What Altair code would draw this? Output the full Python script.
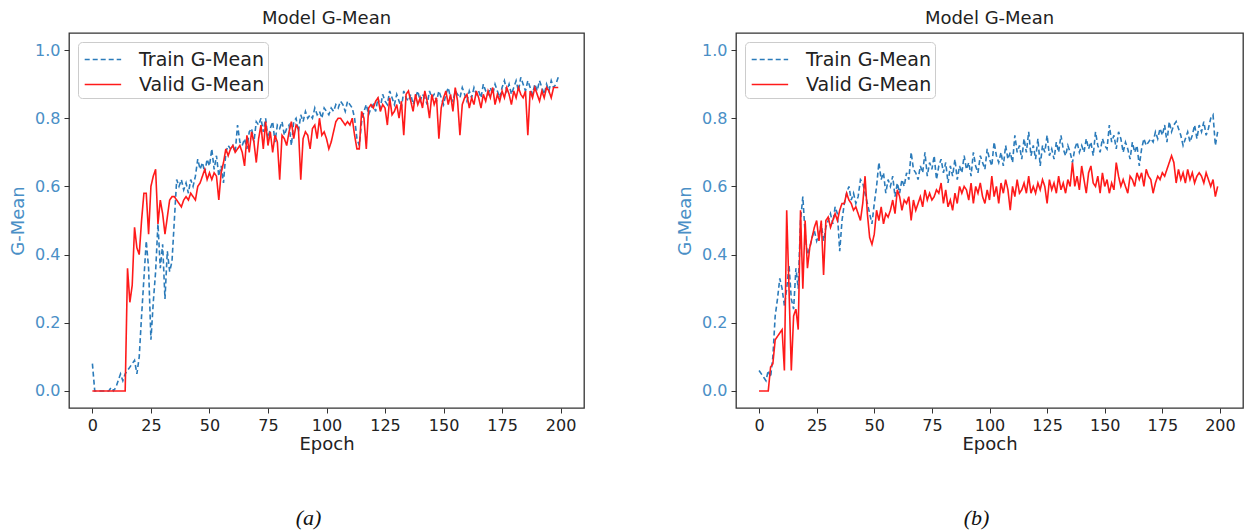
import altair as alt
import pandas as pd

epochs = list(range(200))

a_train = [
    0.08, 0.00, 0.00, 0.00, 0.00, 0.00, 0.00, 0.00, 0.01, 0.00,
    0.01, 0.03, 0.05, 0.03, 0.05, 0.06, 0.07, 0.08, 0.09, 0.05,
    0.10, 0.22, 0.33, 0.44, 0.36, 0.15, 0.26, 0.35, 0.49, 0.36,
    0.43, 0.27, 0.41, 0.35, 0.38, 0.50, 0.62, 0.60, 0.62, 0.59,
    0.61, 0.58, 0.62, 0.60, 0.63, 0.68, 0.65, 0.67, 0.64, 0.68,
    0.66, 0.71, 0.65, 0.69, 0.63, 0.66, 0.61, 0.70, 0.72, 0.71,
    0.72, 0.70, 0.78, 0.73, 0.72, 0.74, 0.71, 0.76, 0.77, 0.73,
    0.79, 0.78, 0.80, 0.76, 0.80, 0.74, 0.77, 0.79, 0.73, 0.78,
    0.77, 0.79, 0.75, 0.77, 0.78, 0.72, 0.79, 0.80, 0.76, 0.81,
    0.79, 0.82, 0.80, 0.81, 0.80, 0.83, 0.81, 0.82, 0.80, 0.83,
    0.82, 0.81, 0.83, 0.82, 0.84, 0.83, 0.85, 0.84, 0.82, 0.85,
    0.84, 0.83, 0.80, 0.74, 0.72, 0.79, 0.82, 0.84, 0.81, 0.83,
    0.84, 0.82, 0.86, 0.83, 0.87, 0.85, 0.84, 0.88, 0.86, 0.84,
    0.87, 0.85, 0.83, 0.88, 0.86, 0.85, 0.87, 0.84, 0.86, 0.88,
    0.85, 0.87, 0.86, 0.84, 0.88, 0.86, 0.87, 0.85, 0.88, 0.86,
    0.84, 0.87, 0.89, 0.86, 0.85, 0.88, 0.87, 0.86, 0.89, 0.87,
    0.85, 0.88, 0.86, 0.89, 0.87, 0.88, 0.86, 0.90, 0.88, 0.87,
    0.89, 0.87, 0.90, 0.88, 0.86, 0.89, 0.91, 0.88, 0.90, 0.87,
    0.89, 0.91, 0.88, 0.92, 0.90, 0.88, 0.91, 0.89, 0.87, 0.90,
    0.88, 0.91, 0.89, 0.87, 0.90, 0.88, 0.91, 0.89, 0.90, 0.92,
]

a_valid = [
    0.00, 0.00, 0.00, 0.00, 0.00, 0.00, 0.00, 0.00, 0.00, 0.00,
    0.00, 0.00, 0.00, 0.00, 0.00, 0.36, 0.26, 0.31, 0.48, 0.42,
    0.40, 0.50, 0.58, 0.58, 0.46, 0.60, 0.63, 0.65, 0.49, 0.56,
    0.52, 0.46, 0.51, 0.56, 0.57, 0.57, 0.56, 0.55, 0.54, 0.56,
    0.57, 0.56, 0.58, 0.57, 0.56, 0.60, 0.61, 0.63, 0.65, 0.62,
    0.64, 0.62, 0.64, 0.63, 0.56, 0.64, 0.67, 0.71, 0.69, 0.71,
    0.72, 0.70, 0.71, 0.72, 0.70, 0.66, 0.75, 0.70, 0.76, 0.73,
    0.67, 0.74, 0.78, 0.71, 0.79, 0.72, 0.76, 0.70, 0.75, 0.73,
    0.62, 0.75, 0.74, 0.72, 0.76, 0.79, 0.74, 0.78, 0.77, 0.62,
    0.74, 0.76, 0.75, 0.71, 0.77, 0.78, 0.74, 0.80, 0.75, 0.76,
    0.74, 0.71, 0.73, 0.76, 0.79, 0.80, 0.80, 0.79, 0.78, 0.79,
    0.78, 0.80, 0.75, 0.71, 0.71, 0.82, 0.80, 0.71, 0.83, 0.84,
    0.83, 0.85, 0.86, 0.82, 0.84, 0.83, 0.78, 0.86, 0.81, 0.82,
    0.84, 0.80, 0.85, 0.75, 0.87, 0.88, 0.85, 0.82, 0.87, 0.84,
    0.86, 0.83, 0.88, 0.85, 0.80, 0.87, 0.84, 0.86, 0.74, 0.83,
    0.86, 0.88, 0.84, 0.87, 0.82, 0.89, 0.85, 0.75, 0.84, 0.86,
    0.87, 0.83, 0.86, 0.84, 0.88, 0.86, 0.83, 0.87, 0.85, 0.88,
    0.86, 0.89, 0.84, 0.87, 0.85, 0.88, 0.86, 0.89, 0.87, 0.84,
    0.88, 0.86, 0.89, 0.87, 0.86, 0.88, 0.75, 0.88, 0.86, 0.89,
    0.87, 0.85, 0.88, 0.86, 0.89, 0.88, 0.86, 0.89, 0.89, 0.89,
]

b_train = [
    0.06, 0.05, 0.04, 0.03, 0.06, 0.04, 0.10, 0.22, 0.27, 0.33,
    0.30, 0.25, 0.30, 0.37, 0.27, 0.24, 0.36, 0.30, 0.50, 0.57,
    0.46, 0.40, 0.42, 0.45, 0.47, 0.44, 0.46, 0.49, 0.44, 0.48,
    0.50, 0.52, 0.49, 0.54, 0.52, 0.41, 0.50, 0.55, 0.58, 0.60,
    0.56, 0.58, 0.55, 0.57, 0.62, 0.61, 0.58, 0.55, 0.52, 0.49,
    0.55, 0.60, 0.67, 0.62, 0.64, 0.58, 0.62, 0.60, 0.63, 0.57,
    0.61, 0.58, 0.62, 0.60, 0.64, 0.62, 0.70, 0.65, 0.64, 0.62,
    0.66, 0.64, 0.70, 0.63, 0.67, 0.65, 0.69, 0.62, 0.66, 0.68,
    0.64, 0.67, 0.61, 0.66, 0.63, 0.68, 0.62, 0.66, 0.64, 0.69,
    0.65, 0.67, 0.63, 0.70, 0.66, 0.64, 0.69, 0.67, 0.65, 0.71,
    0.68, 0.66, 0.73, 0.69, 0.67, 0.70, 0.66, 0.72, 0.68, 0.70,
    0.67, 0.75, 0.70, 0.72, 0.68, 0.74, 0.70, 0.76, 0.69, 0.72,
    0.68, 0.74, 0.66, 0.72, 0.70, 0.75, 0.69, 0.71, 0.68, 0.73,
    0.70, 0.75, 0.71, 0.69, 0.72, 0.70, 0.67, 0.71, 0.73, 0.70,
    0.72, 0.70, 0.74, 0.71, 0.73, 0.69, 0.76, 0.72, 0.70, 0.74,
    0.72, 0.71, 0.78, 0.73, 0.75, 0.71, 0.76, 0.74, 0.70, 0.73,
    0.71, 0.68, 0.73, 0.70, 0.72, 0.66, 0.71, 0.74, 0.72, 0.73,
    0.74, 0.73, 0.76, 0.74, 0.77, 0.75, 0.78, 0.73, 0.79, 0.76,
    0.78, 0.79, 0.77, 0.75, 0.72, 0.74, 0.76, 0.73, 0.75, 0.78,
    0.74, 0.78, 0.76, 0.79, 0.75, 0.77, 0.80, 0.81, 0.72, 0.76,
]

b_valid = [
    0.00, 0.00, 0.00, 0.00, 0.00, 0.07, 0.08, 0.15, 0.16, 0.17,
    0.18, 0.06, 0.53, 0.30, 0.06, 0.22, 0.24, 0.18, 0.53, 0.30,
    0.50, 0.36, 0.42, 0.45, 0.48, 0.50, 0.44, 0.50, 0.34, 0.50,
    0.51, 0.48, 0.50, 0.52, 0.50, 0.53, 0.55, 0.55, 0.58, 0.56,
    0.55, 0.53, 0.54, 0.52, 0.50, 0.55, 0.63, 0.52, 0.45, 0.43,
    0.46, 0.53, 0.50, 0.54, 0.49, 0.52, 0.51, 0.53, 0.56, 0.52,
    0.59, 0.57, 0.53, 0.56, 0.55, 0.57, 0.50, 0.56, 0.53, 0.55,
    0.57, 0.54, 0.59, 0.56, 0.58, 0.56, 0.57, 0.59, 0.58, 0.61,
    0.55, 0.59, 0.54, 0.56, 0.53, 0.58, 0.55, 0.60, 0.58, 0.60,
    0.59, 0.56, 0.61, 0.55, 0.60, 0.58, 0.61, 0.57, 0.55, 0.59,
    0.56, 0.63, 0.57, 0.60, 0.55, 0.61, 0.58, 0.62, 0.59, 0.53,
    0.60, 0.57, 0.62, 0.58, 0.59, 0.61, 0.58, 0.63, 0.58, 0.60,
    0.58, 0.61, 0.59, 0.62, 0.60, 0.55, 0.62, 0.59, 0.61, 0.58,
    0.63, 0.59, 0.61, 0.58, 0.62, 0.60, 0.67, 0.60, 0.63, 0.59,
    0.66, 0.62, 0.58, 0.64, 0.66, 0.61, 0.60, 0.63, 0.58, 0.64,
    0.60, 0.62, 0.58, 0.61, 0.59, 0.67, 0.63, 0.60, 0.62, 0.60,
    0.58, 0.63, 0.62, 0.60, 0.64, 0.62, 0.64, 0.60, 0.65, 0.63,
    0.62, 0.58, 0.61, 0.63, 0.62, 0.64, 0.63, 0.65, 0.67, 0.69,
    0.67, 0.61, 0.65, 0.62, 0.64, 0.61, 0.65, 0.62, 0.64, 0.61,
    0.63, 0.64, 0.63, 0.61, 0.64, 0.62, 0.60, 0.62, 0.57, 0.60,
]

series_names = ["Train G-Mean", "Valid G-Mean"]
series_colors = ["#2b7bba", "#ff1a1a"]
series_dashes = [[5, 3], [1, 0]]
x_ticks = [0, 25, 50, 75, 100, 125, 150, 175, 200]
y_ticks = [0.0, 0.2, 0.4, 0.6, 0.8, 1.0]
captions = ["(a)", "(b)"]

H = 375
FONT = "DejaVu Sans"
BLUE_TXT = "#4a8fc6"


def panel(train, valid, caption, W, cap_shift):
    df = pd.DataFrame({
        "Epoch": epochs * 2,
        "value": train + valid,
        "series": [series_names[0]] * len(train) + [series_names[1]] * len(valid),
    })
    lines = alt.Chart(df).mark_line(strokeWidth=1.6, clip=True).encode(
        x=alt.X("Epoch:Q",
                scale=alt.Scale(domain=[-10, 210], nice=False, zero=False),
                axis=alt.Axis(values=x_ticks, title="Epoch", labelColor="#222",
                              titleColor="#222")),
        y=alt.Y("value:Q",
                scale=alt.Scale(domain=[-0.05, 1.05], nice=False, zero=False),
                axis=alt.Axis(values=y_ticks, format=".1f", title="G-Mean",
                              labelColor=BLUE_TXT, titleColor=BLUE_TXT)),
        color=alt.Color("series:N",
                        scale=alt.Scale(domain=series_names, range=series_colors),
                        legend=alt.Legend(title=None, orient="top-left")),
        strokeDash=alt.StrokeDash("series:N",
                                  scale=alt.Scale(domain=series_names, range=series_dashes),
                                  legend=alt.Legend(title=None, orient="top-left")),
        order="Epoch:Q",
    )
    cap = alt.Chart(pd.DataFrame({"cap": [caption]})).mark_text(
        font="Liberation Serif", fontStyle="italic", fontSize=22, color="#111",
        baseline="middle", align="center",
    ).encode(text="cap:N", x=alt.value(W / 2 + cap_shift), y=alt.value(H + 110))
    return alt.layer(lines, cap).properties(
        width=W, height=H,
        title=alt.TitleParams("Model G-Mean", fontSize=18, font=FONT,
                              fontWeight="normal", color="#222", offset=5),
    )


pa = panel(a_train, a_valid, captions[0], 515, -18)
pb = panel(b_train, b_valid, captions[1], 507, -13)

chart = alt.hconcat(pa, pb, spacing=90).resolve_scale(
    color="independent", strokeDash="independent"
).resolve_legend(
    color="independent", strokeDash="independent"
).properties(
    padding={"left": 8, "top": 9, "right": 5, "bottom": 5}
).configure(
    font=FONT,
).configure_view(
    stroke="#333", strokeWidth=1.3,
).configure_axis(
    grid=False, domain=False, tickColor="#333", tickSize=5,
    labelFont=FONT, labelFontSize=16, titleFont=FONT, titleFontSize=18,
    titleFontWeight="normal", labelPadding=4,
).configure_axisY(
    titlePadding=7,
).configure_axisX(
    titlePadding=2,
).configure_legend(
    symbolType="M-0.8,0H1.9", symbolSize=729, symbolStrokeWidth=1.6,
    symbolFillColor="transparent",
    labelFont=FONT, labelFontSize=19, labelColor="#222",
    fillColor="white", strokeColor="#ccc", cornerRadius=4,
    padding=3, offset=9, rowPadding=0, labelOffset=29,
)

chart.save("out.html", embed_options={"renderer": "svg", "actions": False})
